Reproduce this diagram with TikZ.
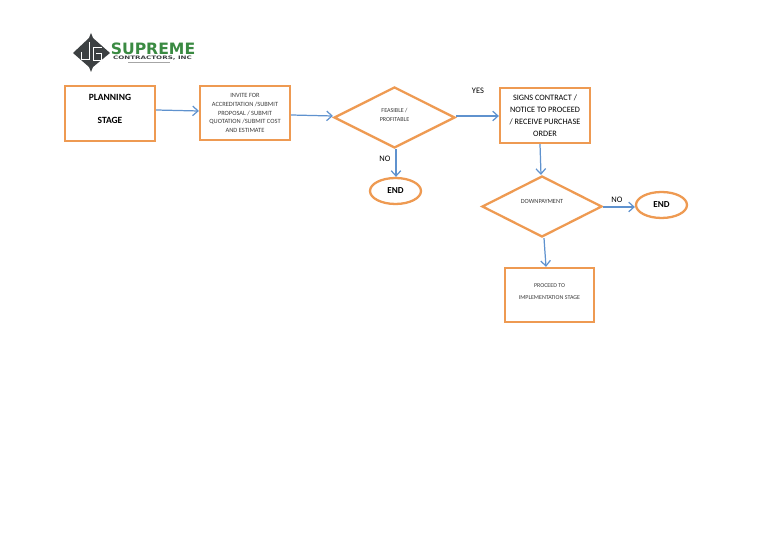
\documentclass[tikz,border=0pt]{standalone}
\usepackage{fontspec}
\setmainfont{Carlito}
\newfontfamily\logofont{DejaVu Sans}
\usetikzlibrary{shapes.geometric, arrows.meta}
\definecolor{boxorange}{HTML}{EE9A52}
\definecolor{flowblue}{HTML}{5F92CE}
\definecolor{logogreen}{HTML}{3A8A42}
\definecolor{logogrey}{HTML}{3C4042}
\definecolor{smallink}{HTML}{3A3A3A}
\tikzset{
	stagebox/.style = {draw = boxorange, line width = 1.3pt, rectangle, inner sep = 0pt, align = center, text = smallink},
	decision/.style = {draw = boxorange, line width = 1.3pt, diamond, aspect = 2, inner sep = 0pt, align = center, text = smallink},
	endcap/.style = {draw = boxorange, line width = 1.3pt, ellipse, inner sep = 0pt, minimum width = 51*0.02cm, minimum height = 26*0.02cm, font = \fontsize{5.2}{6}\selectfont\bfseries},
	flow/.style = {draw = flowblue, line width = 0.7pt, -{Straight Barb[length = 3pt, width = 5.5pt]}},
	tag/.style = {inner sep = 0pt, font = \fontsize{4.8}{5}\selectfont}
}
\begin{document}
\begin{tikzpicture}[x = 0.02cm, y = -0.02cm]

	\useasboundingbox (0, 0) rectangle (768, 543);

	% logo
	\fill[logogrey] (91, 33) -- (93, 38) -- (110, 53) -- (93, 67) -- (91, 72) -- (89, 67) -- (73, 53) -- (89, 38) -- cycle;
	\draw[white, line width = 0.4pt] (89, 42) -- (89, 59) -- (81, 59) -- (81, 52);
	\draw[white, line width = 0.4pt] (102, 47) -- (93, 47) -- (93, 60) -- (101, 60) -- (101, 53) -- (96, 53);
	\node[inner sep = 0pt, text = logogreen, font = \logofont\bfseries\fontsize{8.9}{10}\selectfont] (supreme) at (153, 49) {SUPREME};
	\node[inner sep = 0pt, text = logogrey, xscale = 1.5, font = \logofont\bfseries\fontsize{2.7}{3}\selectfont] (contractors) at (152.5, 58.5) {CONTRACTORS, INC};
	\draw[gray!70, line width = 0.5pt] (128, 62) -- (170, 62);

	% boxes
	\node[stagebox, text = black, minimum width = 90*0.02cm, minimum height = 55*0.02cm, font = \fontsize{5.4}{13}\selectfont\bfseries] (planning) at (110, 113.5) {PLANNING\\STAGE\\[-7.4pt]~};
	\node[stagebox, minimum width = 90*0.02cm, minimum height = 54*0.02cm, font = \fontsize{3.65}{5}\selectfont] (invite) at (245, 113) {INVITE FOR\\ACCREDITATION /SUBMIT\\PROPOSAL / SUBMIT\\QUOTATION /SUBMIT COST\\AND ESTIMATE};
	\node[decision, minimum width = 121*0.02cm, minimum height = 61*0.02cm, font = \fontsize{3.45}{5}\selectfont] (feasible) at (394.5, 117.5) {FEASIBLE /\\PROFITABLE\\[-2pt]~};
	\node[stagebox, text = black, minimum width = 90*0.02cm, minimum height = 55*0.02cm, font = \fontsize{4.7}{6.8}\selectfont] (signs) at (545, 115.5) {SIGNS CONTRACT /\\NOTICE TO PROCEED\\/ RECEIVE PURCHASE\\ORDER};
	\node[endcap] (endone) at (395.5, 191) {END};
	\node[decision, minimum width = 120*0.02cm, minimum height = 61*0.02cm, font = \fontsize{3.6}{5}\selectfont] (downpayment) at (542, 206.5) {DOWNPAYMENT\\[1pt]~};
	\node[endcap] (endtwo) at (661.5, 205) {END};
	\node[stagebox, minimum width = 89*0.02cm, minimum height = 54*0.02cm, font = \fontsize{3.4}{6.8}\selectfont] (proceed) at (549.5, 295) {PROCEED TO\\IMPLEMENTATION STAGE\\[-3.3pt]~};

	% connectors
	\draw[flow] (planning.east |- 0, 110) -- (invite.west |- 0, 111);
	\draw[flow] (invite.east |- 0, 115) -- (feasible.west |- 0, 116);
	\draw[flow] (feasible.east |- 0, 116) -- (signs.west |- 0, 116);
	\draw[flow] (feasible.south -| 396, 0) -- (endone.north -| 396, 0);
	\draw[flow] (signs.south -| 540, 0) -- (downpayment.north -| 541, 0);
	\draw[flow] (downpayment.east |- 0, 207) -- (endtwo.west |- 0, 207);
	\draw[flow] (downpayment.south -| 544, 0) -- (proceed.north -| 546, 0);

	% labels
	\node[tag] (yes) at (478, 91) {YES};
	\node[tag] (noone) at (385, 159) {NO};
	\node[tag] (notwo) at (617, 200) {NO};

\end{tikzpicture}
\end{document}
